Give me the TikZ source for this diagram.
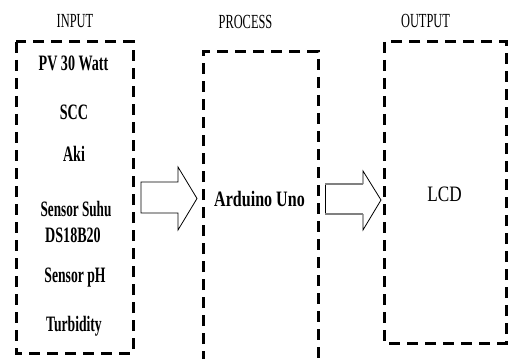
\documentclass[tikz,border=0pt]{standalone}
\usepackage{fontspec}
\setmainfont{Liberation Serif}
\newcommand{\sqz}[2][0.64]{\scalebox{#1}[1]{#2}}
\begin{document}
\begin{tikzpicture}[x=1pt,y=-1pt,
  dashbox/.style={draw=black,line width=3pt,dash pattern=on 11pt off 7pt},
  lbl/.style={anchor=base,inner sep=0pt,font=\fontsize{22}{24}\selectfont\bfseries},
  hdr/.style={anchor=base,inner sep=0pt,font=\fontsize{20}{22}\selectfont},
  blockarrow/.style={draw=black,line width=0.8pt,fill=white,line join=miter}]
\useasboundingbox (0,0) rectangle (510,358);
% headers
\node[hdr] (hin) at (75,28) {\sqz[0.62]{INPUT}};
\node[hdr] (hpr) at (245.5,29) {\sqz[0.62]{PROCESS}};
\node[hdr] (hout) at (425.5,28) {\sqz[0.62]{OUTPUT}};
% input box
\coordinate (inTL) at (16,42);
\coordinate (inBR) at (133,353);
\draw[dashbox] (inTL) rectangle (inBR);
\node[lbl] (pv) at (73.5,71) {\sqz{PV 30 Watt}};
\node[lbl] (scc) at (74,120) {\sqz{SCC}};
\node[lbl] (aki) at (74,161) {\sqz{Aki}};
\node[lbl] (suhu) at (76,216) {\sqz[0.6]{Sensor Suhu}};
\node[lbl] (ds) at (73,242) {\sqz{DS18B20}};
\node[lbl] (ph) at (75,282) {\sqz[0.62]{Sensor pH}};
\node[lbl] (turb) at (74,331) {\sqz[0.62]{Turbidity}};
% process box (open at bottom)
\coordinate (prBL) at (203,362);
\coordinate (prTL) at (203,52);
\coordinate (prTR) at (318,52);
\coordinate (prBR) at (318,362);
\draw[dashbox] (prBL) -- (prTL) -- (prTR) -- (prBR);
\node[lbl] (ard) at (259.5,206) {\sqz[0.73]{Arduino Uno}};
% output box
\coordinate (outTL) at (384,42);
\coordinate (outBR) at (506,343);
\draw[dashbox] (outTL) rectangle (outBR);
\node[lbl,font=\fontsize{22}{24}\selectfont] (lcd) at (444.5,201) {\sqz[0.78]{LCD}};
% arrow 1
\coordinate (a1t) at (197,198.5);
\draw[blockarrow] (141,182) -- (178,182) -- (178,167) -- (a1t) -- (178,230) -- (178,213) -- (141,213) -- cycle;
% arrow 2
\coordinate (a2t) at (381,200);
\draw[blockarrow] (325,184) -- (325,214);
\draw[blockarrow] (363,184) -- (363,171) -- (a2t) -- (363,230) -- (363,214);
\draw[draw=gray,line width=2.2pt] (325,184) -- (363,184);
\draw[draw=gray,line width=2.2pt] (325,214) -- (363,214);
\end{tikzpicture}
\end{document}
